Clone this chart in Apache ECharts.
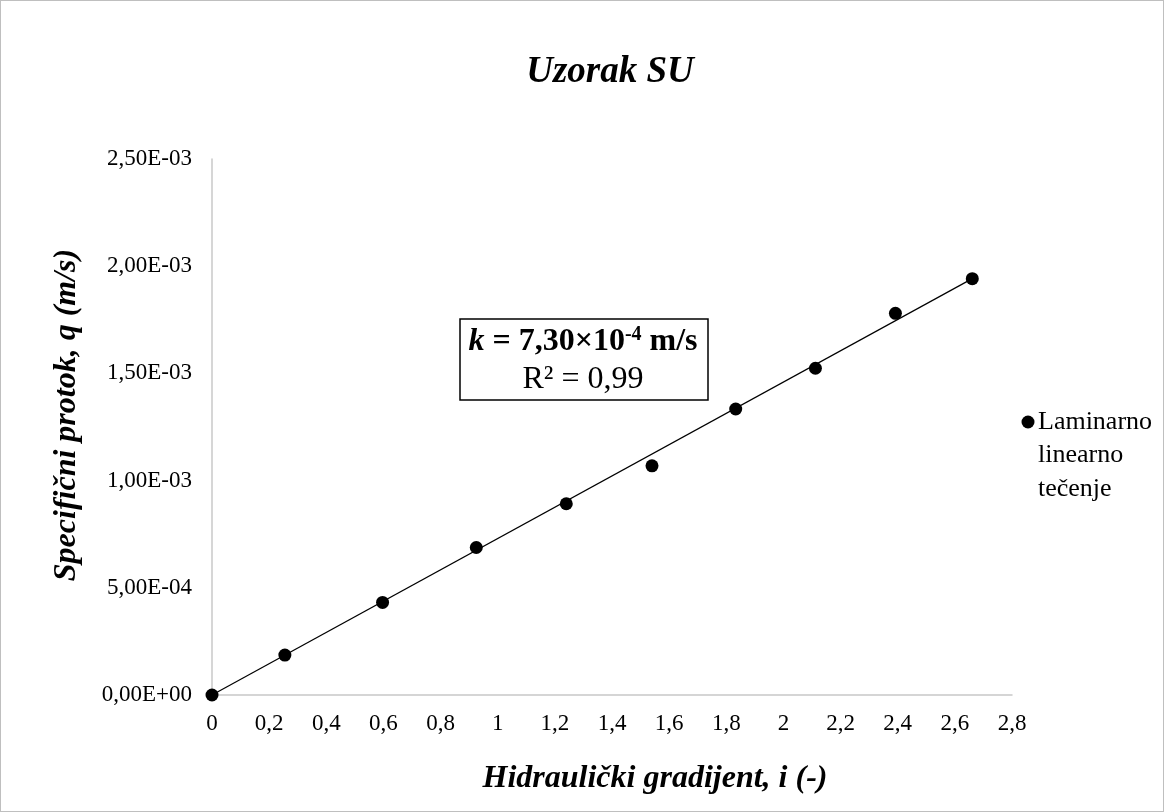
<!DOCTYPE html>
<html>
<head>
<meta charset="utf-8">
<script src="https://cdn.jsdelivr.net/npm/echarts@6/dist/echarts.min.js"></script>
<style>
html,body{margin:0;padding:0;background:#fff;}
#c{width:1164px;height:812px;box-sizing:border-box;border:1px solid #bfbfbf;}
</style>
</head>
<body>
<div id="c"></div>
<script>
const gradient = [0, 0.255, 0.597, 0.925, 1.240, 1.540, 1.833, 2.112, 2.392, 2.661];
const flow = [0, 1.86e-4, 4.32e-4, 6.88e-4, 8.92e-4, 1.069e-3, 1.334e-3, 1.524e-3, 1.780e-3, 1.942e-3];
const trendX = [0, 2.661];
const trendY = [0, 1.942e-3];
const seriesName = 'Laminarno linearno tečenje';
const legendLines = ['Laminarno', 'linearno', 'tečenje'];
const titleText = 'Uzorak SU';
const xTitle = 'Hidraulički gradijent, i (-)';
const yTitle = 'Specifični protok, q (m/s)';

const FONT = '"Liberation Serif", "Times New Roman", serif';

function yFmt(v) {
  if (v === 0) return '0,00E+00';
  let s = v.toExponential(2);
  let [m, e] = s.split('e');
  let sign = e[0] === '-' ? '-' : '+';
  let d = e.replace(/[+-]/, '');
  if (d.length < 2) d = '0' + d;
  return m.replace('.', ',') + 'E' + sign + d;
}
function xFmt(v) {
  return String(Math.round(v * 10) / 10).replace('.', ',');
}

const chart = echarts.init(document.getElementById('c'));
chart.setOption({
  backgroundColor: '#fff',
  animation: false,
  grid: { left: 211, right: 151, top: 158, bottom: 116 },
  xAxis: {
    type: 'value',
    min: 0, max: 2.8, interval: 0.2,
    axisLine: { show: true, lineStyle: { color: '#c8c8c8', width: 1.5 } },
    axisTick: { show: false },
    splitLine: { show: false },
    axisLabel: { formatter: xFmt, fontFamily: FONT, fontSize: 23, color: '#000', margin: 17 }
  },
  yAxis: {
    type: 'value',
    min: 0, max: 2.5e-3, interval: 5e-4,
    axisLine: { show: true, lineStyle: { color: '#c8c8c8', width: 1.5 } },
    axisTick: { show: false },
    splitLine: { show: false },
    axisLabel: { formatter: yFmt, fontFamily: FONT, fontSize: 23, color: '#000', margin: 20 }
  },
  series: [
    {
      name: 'trend',
      type: 'line',
      data: trendX.map((x, i) => [x, trendY[i]]),
      showSymbol: false,
      symbol: 'none',
      lineStyle: { color: '#000', width: 1.2 },
      z: 2,
      silent: true
    },
    {
      name: seriesName,
      type: 'scatter',
      data: gradient.map((x, i) => [x, flow[i]]),
      symbol: 'circle',
      symbolSize: 13,
      itemStyle: { color: '#000', opacity: 1 },
      z: 3
    }
  ],
  graphic: [
    {
      type: 'text',
      x: 609, y: 71,
      style: { text: titleText, fontFamily: FONT, fontSize: 37, fontWeight: 'bold', fontStyle: 'italic', fill: '#000', align: 'center', verticalAlign: 'middle' }
    },
    {
      type: 'text',
      x: 654, y: 778,
      style: { text: xTitle, fontFamily: FONT, fontSize: 32, fontWeight: 'bold', fontStyle: 'italic', fill: '#000', align: 'center', verticalAlign: 'middle' }
    },
    {
      type: 'text',
      x: 66, y: 414,
      rotation: Math.PI / 2,
      style: { text: yTitle, fontFamily: FONT, fontSize: 32, fontWeight: 'bold', fontStyle: 'italic', fill: '#000', align: 'center', verticalAlign: 'middle' }
    },
    {
      type: 'rect',
      shape: { x: 459, y: 318, width: 248, height: 81 },
      style: { fill: '#fff', stroke: '#000', lineWidth: 1.5 },
      z: 10
    },
    {
      type: 'text',
      x: 582, y: 341,
      style: {
        rich: {
          k: { fontFamily: FONT, fontSize: 32, fontWeight: 'bold', fontStyle: 'italic', fill: '#000' },
          b: { fontFamily: FONT, fontSize: 32, fontWeight: 'bold', fill: '#000' },
          sup: { fontFamily: FONT, fontSize: 20, fontWeight: 'bold', fill: '#000', verticalAlign: 'top', padding: [0, 0, 14, 0] }
        },
        text: '{k|k}{b| = 7,30×10}{sup|-4}{b| m/s}',
        align: 'center', verticalAlign: 'middle'
      },
      z: 11
    },
    {
      type: 'text',
      x: 582, y: 379,
      style: {
        text: 'R² = 0,99',
        fontFamily: FONT, fontSize: 32, fill: '#000',
        align: 'center', verticalAlign: 'middle'
      },
      z: 11
    },
    {
      type: 'circle',
      shape: { cx: 1027, cy: 421, r: 6.5 },
      style: { fill: '#000' }
    },
    {
      type: 'text',
      x: 1037, y: 421,
      style: { text: legendLines[0], fontFamily: FONT, fontSize: 26, fill: '#000', verticalAlign: 'middle' }
    },
    {
      type: 'text',
      x: 1037, y: 454,
      style: { text: legendLines[1], fontFamily: FONT, fontSize: 26, fill: '#000', verticalAlign: 'middle' }
    },
    {
      type: 'text',
      x: 1037, y: 488,
      style: { text: legendLines[2], fontFamily: FONT, fontSize: 26, fill: '#000', verticalAlign: 'middle' }
    }
  ]
});
</script>
</body>
</html>
